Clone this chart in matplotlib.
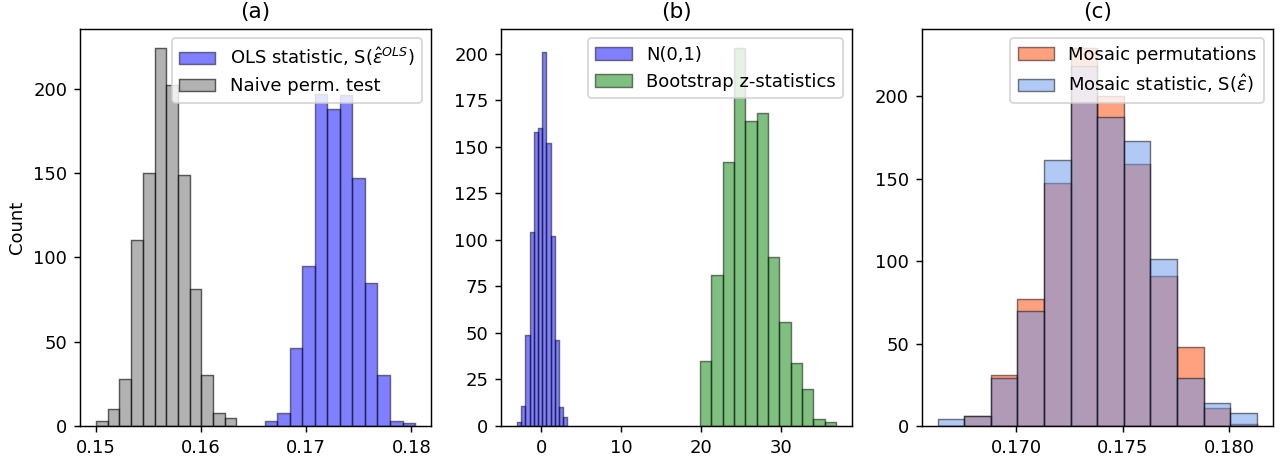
import numpy as np
import matplotlib
matplotlib.use("Agg")
import matplotlib.pyplot as plt

# ---- Panel (a) ----
naive_range = (0.1500, 0.16337)
naive_counts = [3, 10, 28, 110, 150, 224, 202, 149, 81, 30, 8, 5]
ols_range = (0.16607, 0.18036)
ols_counts = [3, 8, 46, 95, 197, 188, 196, 147, 85, 30, 3, 2]

# ---- Panel (b) ----
norm_range = (-3.05, 3.26)
norm_counts = [2, 11, 49, 104, 158, 160, 201, 152, 102, 46, 10, 5]
boot_range = (19.86, 36.91)
boot_counts = [35, 81, 142, 203, 164, 168, 91, 56, 34, 20, 4, 2]

# ---- Panel (c) ----
mosaic_range = (0.166305, 0.18130)
perm_counts = [0, 6, 31, 77, 147, 229, 200, 159, 91, 48, 11, 1]
stat_counts = [4, 6, 29, 70, 161, 218, 187, 173, 101, 29, 14, 8]

titles = ["(a)", "(b)", "(c)"]


def draw_hist(ax, rng, counts, **kw):
    edges = np.linspace(rng[0], rng[1], len(counts) + 1)
    centers = 0.5 * (edges[:-1] + edges[1:])
    ax.hist(centers, bins=edges, weights=counts, **kw)


fig = plt.figure(figsize=(1281 / 130, 459 / 130), dpi=130)
W, H = 1281, 459
bottom = (H - 426) / H
height = (426 - 29.3) / H
width = 351 / W
lefts = [80 / W, 501 / W, 921.7 / W]
axes = [fig.add_axes([l, bottom, width, height]) for l in lefts]

ax = axes[0]
draw_hist(ax, ols_range, ols_counts, color="blue", alpha=0.5, edgecolor="black",
          linewidth=0.8, label=r"OLS statistic, S($\hat{\epsilon}^{OLS}$)")
draw_hist(ax, naive_range, naive_counts, color="gray", alpha=0.6, edgecolor="black",
          linewidth=0.8, label="Naive perm. test")
ax.set_ylabel("Count")
ax.legend(loc="upper right")

ax = axes[1]
draw_hist(ax, norm_range, norm_counts, color="blue", alpha=0.5, edgecolor="black",
          linewidth=0.8, label="N(0,1)")
draw_hist(ax, boot_range, boot_counts, color="green", alpha=0.5, edgecolor="black",
          linewidth=0.8, label="Bootstrap z-statistics")
ax.legend(loc="upper right")

ax = axes[2]
draw_hist(ax, mosaic_range, perm_counts, color="orangered", alpha=0.5, edgecolor="black",
          linewidth=0.8, label="Mosaic permutations")
draw_hist(ax, mosaic_range, stat_counts, color="cornflowerblue", alpha=0.5, edgecolor="black",
          linewidth=0.8, label=r"Mosaic statistic, S($\hat{\epsilon}$)")
ax.legend(loc="upper right")

for ax, t in zip(axes, titles):
    ax.set_title(t)

fig.savefig("out.png", dpi=130)
